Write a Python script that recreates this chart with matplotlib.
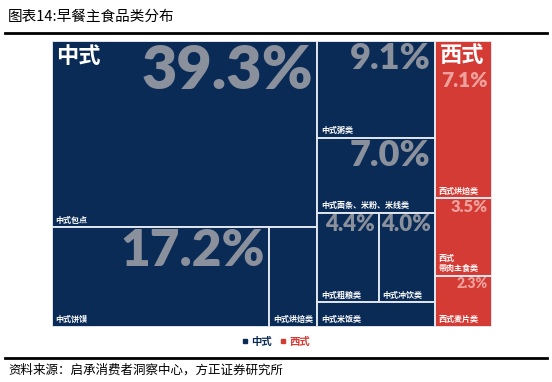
import matplotlib
matplotlib.use('Agg')
import matplotlib.pyplot as plt
from matplotlib.patches import Rectangle
from matplotlib.lines import Line2D

plt.rcParams['font.family'] = ['Noto Sans CJK SC', 'DejaVu Sans']

# 数据
labels = ['中式包点', '中式饼馍', '中式烘焙类', '中式粥类', '中式面条、米粉、米线类',
          '中式粗粮类', '中式冲饮类', '中式米饭类', '西式烘焙类', '西式\n带肉主食类', '西式麦片类']
shares = [39.3, 17.2, 3.8, 9.1, 7.0, 4.4, 4.0, 2.3, 7.1, 3.5, 2.3]
groups = ['中式'] * 8 + ['西式'] * 3
show_pct = [True, True, False, True, True, True, True, False, True, True, True]
pct_size = [44, 37, 0, 26, 26, 16, 16, 0, 15, 12, 10]

# 切片布局: 'h' 横向排列, 'v' 纵向排列
tree = ('h', [('h', [('v', [0, ('h', [1, 2])]),
                     ('v', [3, 4, ('h', [5, 6]), 7])]),
              ('v', [8, 9, 10])])

NAVY = '#0b2b57'
RED = '#d43b35'
colors = {'中式': NAVY, '西式': RED}
pct_colors = {'中式': '#8a909c', '西式': '#eea19c'}


def total(node):
    if isinstance(node, int):
        return shares[node]
    return sum(total(c) for c in node[1])


def layout(node, x, y, w, h, out):
    if isinstance(node, int):
        out[node] = (x, y, w, h)
        return
    direction, children = node
    tot = total(node)
    pos = 0
    for c in children:
        f = total(c) / tot
        if direction == 'h':
            layout(c, x + pos * w, y, f * w, h, out)
        else:
            layout(c, x, y + pos * h, w, f * h, out)
        pos += f


rects = {}
layout(tree, 0, 0, 100, 100, rects)

fig = plt.figure(figsize=(5.52, 3.82), dpi=100)
ax = fig.add_axes([52 / 552, 55 / 382, 440 / 552, 286 / 382])
ax.set_xlim(0, 100)
ax.set_ylim(100, 0)
ax.axis('off')

for i, (x, y, w, h) in rects.items():
    g = groups[i]
    ax.add_patch(Rectangle((x, y), w, h, facecolor=colors[g], edgecolor='#dfe6ee', linewidth=1.4))
    ax.text(x + 0.8, y + h - 1.0, labels[i], color='white', fontsize=5.8,
            fontweight='bold', ha='left', va='bottom', linespacing=1.1)
    if show_pct[i]:
        ty = y + 0.3
        if i == 0:
            ty = y + 0.8
        if i == 8:
            ty = y + 10.5
        ax.text(x + w - 1.0, ty, f'{shares[i]:.1f}%', color=pct_colors[g],
                fontsize=pct_size[i], fontweight='heavy', family='Lato',
                ha='right', va='top')

# 分组标签
x0, y0, _, _ = rects[0]
ax.text(x0 + 1.0, y0 + 1.5, '中式', color='white', fontsize=16, fontweight='heavy',
        ha='left', va='top')
x8, y8, _, _ = rects[8]
ax.text(x8 + 1.0, y8 + 1.0, '西式', color='white', fontsize=16, fontweight='heavy',
        ha='left', va='top')

# 图例
handles = [Line2D([], [], marker='s', linestyle='', markersize=3, color=NAVY),
           Line2D([], [], marker='s', linestyle='', markersize=3, color=RED)]
leg = fig.legend(handles, ['中式', '西式'], loc='center', bbox_to_anchor=(276 / 552, 1 - 342 / 382),
                 ncol=2, frameon=False, handlelength=0.6, handletextpad=0.3,
                 columnspacing=0.8, prop={'size': 7.5, 'weight': 'bold'},
                 labelcolor=[NAVY, RED])

# 标题与来源
fig.text(8 / 552, 1 - 17 / 382, '图表14:早餐主食品类分布', fontsize=10.5, ha='left', va='center')
fig.add_artist(Line2D([5 / 552, 547 / 552], [1 - 33 / 382] * 2, color='black', linewidth=2))
fig.add_artist(Line2D([5 / 552, 547 / 552], [1 - 358 / 382] * 2, color='black', linewidth=2))
fig.text(8 / 552, 1 - 370 / 382, '资料来源：启承消费者洞察中心，方正证券研究所', fontsize=9,
         ha='left', va='center')

fig.savefig('out.png', dpi=100)
